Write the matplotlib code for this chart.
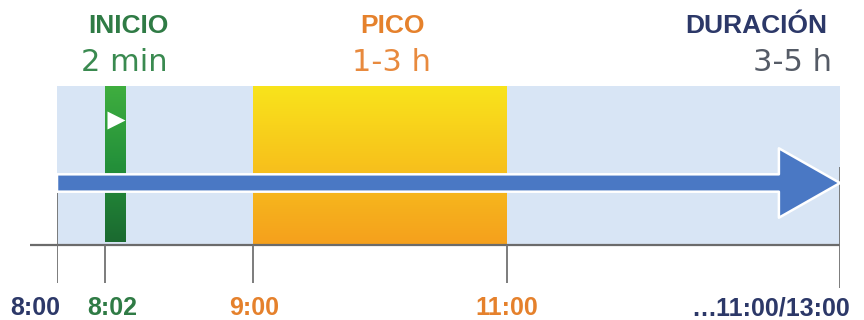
import matplotlib
matplotlib.use("Agg")
import matplotlib.pyplot as plt
import matplotlib.transforms as mtransforms
import numpy as np
from matplotlib.colors import LinearSegmentedColormap
from matplotlib.patches import FancyArrowPatch, Rectangle

# timeline, in minutes after 8:00
tick_minutes = [0, 2, 60, 180, 300]
tick_labels = ["8:00", "8:02", "9:00", "11:00", "…11:00/13:00"]
onset_start = 2
peak_start, peak_end = 60, 180
duration_end = 300

phase_names = ["INICIO", "PICO", "DURACIÓN"]
phase_spans = ["2 min", "1-3 h", "3-5 h"]

# schematic (non-proportional) spacing of the ticks along the axis
axis_stops = [0.0, 48 / 783, 196 / 783, 450 / 783, 1.0]

NAVY = "#2c3868"
GREEN = "#2f7b45"
ORANGE = "#e5812c"
BAND = "#d8e5f5"
ARROW = "#4a78c4"
TICK_GREY = "#727272"


def forward(x):
    return np.interp(x, tick_minutes, axis_stops)


def inverse(x):
    return np.interp(x, axis_stops, tick_minutes)


fig = plt.figure(figsize=(8.64, 3.2), dpi=100)
ax = fig.add_axes([57 / 864, 0, 783 / 864, 1])
ax.set_xscale("function", functions=(forward, inverse))
ax.set_xlim(0, duration_end)
ax.set_ylim(320, 0)
ax.axis("off")

band_top, band_bottom = 86, 245

# light background band for the whole duration
ax.add_patch(Rectangle((0, band_top), duration_end, band_bottom - band_top,
                       facecolor=BAND, edgecolor="none", zorder=1))

# peak window: yellow to orange gradient
peak_cmap = LinearSegmentedColormap.from_list("peak", ["#f9e41b", "#f7c21c", "#f5a01d"])
grad = np.linspace(0, 1, 256).reshape(-1, 1)
ax.imshow(grad, cmap=peak_cmap, aspect="auto", origin="upper",
          extent=(peak_start, peak_end, band_bottom, band_top), zorder=2)

# onset marker: narrow green bar
onset_width = 8.6
green_cmap = LinearSegmentedColormap.from_list("onset", ["#3fae3f", "#24913a", "#1b6a30"])
ax.imshow(grad, cmap=green_cmap, aspect="auto", origin="upper",
          extent=(onset_start, onset_start + onset_width, band_bottom - 3, band_top), zorder=2)
ax.plot(onset_start + onset_width / 2, 120, marker=">", ms=13, color="white",
        mec="none", zorder=3)

# main arrow across the timeline
arrow = FancyArrowPatch((0, 183), (duration_end, 183),
                        arrowstyle="simple,head_length=44,head_width=50,tail_width=12.5",
                        mutation_scale=1, shrinkA=0, shrinkB=0,
                        facecolor=ARROW, edgecolor="white", linewidth=1.8, zorder=4)
ax.add_patch(arrow)

# baseline and ticks
blend = mtransforms.blended_transform_factory(ax.transAxes, ax.transData)
ax.plot([-27 / 783, 1], [band_bottom, band_bottom], color="#6b6b6b", lw=1.6,
        transform=blend, clip_on=False, zorder=3, solid_capstyle="butt")

tick_tops = [193, band_bottom, band_bottom, band_bottom, 167]
tick_bottoms = [283, 283, 283, 283, 288]
ax.vlines(tick_minutes, tick_tops, tick_bottoms, color=TICK_GREY, lw=1.3, zorder=3)

label_colors = [NAVY, GREEN, ORANGE, ORANGE, NAVY]
label_offsets = [-22, 7, 1, 0, 10]
label_align = ["center", "center", "center", "center", "right"]
for m, text, col, dx, ha in zip(tick_minutes, tick_labels, label_colors, label_offsets, label_align):
    ax.annotate(text, xy=(m, 315), xytext=(dx, 0), textcoords="offset pixels",
                ha=ha, va="baseline", fontsize=18, fontweight="bold",
                family="Liberation Sans", color=col, annotation_clip=False)

# phase headings
phase_x = [onset_start, (peak_start + peak_end) / 2, duration_end]
title_dx = [23, 13, -13]
span_dx = [19, 12, -8]
phase_align = ["center", "center", "right"]
title_colors = [GREEN, ORANGE, NAVY]
span_colors = ["#3a8a50", "#e88a3e", "#555b66"]
for x, name, span, tdx, sdx, ha, tc, sc in zip(phase_x, phase_names, phase_spans, title_dx,
                                               span_dx, phase_align, title_colors, span_colors):
    ax.annotate(name, xy=(x, 33), xytext=(tdx, 0), textcoords="offset pixels",
                ha=ha, va="baseline", fontsize=19, fontweight="bold",
                family="Liberation Sans", color=tc, annotation_clip=False)
    ax.annotate(span, xy=(x, 71), xytext=(sdx, 0), textcoords="offset pixels",
                ha=ha, va="baseline", fontsize=22, family="DejaVu Sans",
                color=sc, annotation_clip=False)

fig.savefig("out.png", dpi=100)
